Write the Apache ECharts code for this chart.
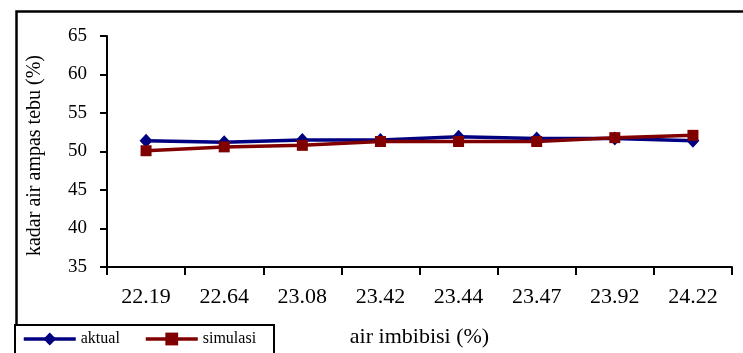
<!DOCTYPE html>
<html>
<head>
<meta charset="utf-8">
<script src="https://cdn.jsdelivr.net/npm/echarts@6/dist/echarts.min.js"></script>
<style>
html,body{margin:0;padding:0;background:#fff;}
#c{width:743px;height:353px;}
</style>
</head>
<body>
<div id="c"></div>
<script>
var categories = ['22.19','22.64','23.08','23.42','23.44','23.47','23.92','24.22'];
var aktual   = [51.4, 51.2, 51.5, 51.5, 51.9, 51.7, 51.7, 51.4];
var simulasi = [50.1, 50.6, 50.8, 51.3, 51.3, 51.3, 51.8, 52.1];
var yTicks = {min: 35, max: 65, interval: 5};

var FONT = '"Liberation Serif", "Times New Roman", serif';
var chart = echarts.init(document.getElementById('c'), null, {renderer: 'canvas'});
var legendCommon = {
  top: 331, itemWidth: 52, itemHeight: 16, itemGap: 4, padding: 0, z: 5,
  lineStyle: {width: 3.5},
  textStyle: {fontFamily: FONT, fontSize: 16, color: '#000'}
};
chart.setOption({
  backgroundColor: '#ffffff',
  animation: false,
  textStyle: {fontFamily: FONT, color: '#000'},
  graphic: [
    {type: 'rect', left: 14, top: 9, shape: {x: 0, y: 0, width: 760, height: 380},
     style: {fill: 'none', stroke: '#000', lineWidth: 2.5}, z: -1},
    {type: 'rect', left: 14, top: 324, shape: {x: 0, y: 0, width: 259, height: 60},
     style: {fill: '#fff', stroke: '#000', lineWidth: 2}, z: 0}
  ],
  grid: {left: 107, right: 11, top: 36, bottom: 84, containLabel: false},
  legend: [
    Object.assign({data: ['aktual'], left: 22}, legendCommon),
    Object.assign({data: ['simulasi'], left: 144}, legendCommon)
  ],
  xAxis: {
    type: 'category',
    data: categories,
    boundaryGap: true,
    name: 'air imbibisi (%)',
    nameLocation: 'middle',
    nameGap: 59,
    nameTextStyle: {fontFamily: FONT, fontSize: 22, color: '#000'},
    axisLine: {lineStyle: {color: '#000', width: 2}},
    axisTick: {show: true, interval: 0, length: 8, lineStyle: {color: '#000', width: 2}},
    axisLabel: {interval: 0, margin: 19, fontFamily: FONT, fontSize: 22, color: '#000'},
    splitLine: {show: false}
  },
  yAxis: {
    type: 'value',
    min: yTicks.min, max: yTicks.max, interval: yTicks.interval,
    name: 'kadar air ampas tebu (%)',
    nameLocation: 'middle',
    nameGap: 62,
    nameTextStyle: {fontFamily: FONT, fontSize: 20, color: '#000', padding: [0, 0, 0, -8]},
    axisLine: {show: true, lineStyle: {color: '#000', width: 2}},
    axisTick: {show: true, length: 7, lineStyle: {color: '#000', width: 2}},
    axisLabel: {margin: 20, fontFamily: FONT, fontSize: 19, color: '#000'},
    splitLine: {show: false}
  },
  series: [
    {name: 'aktual', type: 'line', data: aktual, symbol: 'diamond', symbolSize: [13, 14],
     itemStyle: {color: '#000080'}, lineStyle: {color: '#000080', width: 3.5}, z: 2},
    {name: 'simulasi', type: 'line', data: simulasi, symbol: 'rect', symbolSize: 11,
     itemStyle: {color: '#800000'}, lineStyle: {color: '#800000', width: 3.5}, z: 3}
  ]
});
</script>
</body>
</html>
